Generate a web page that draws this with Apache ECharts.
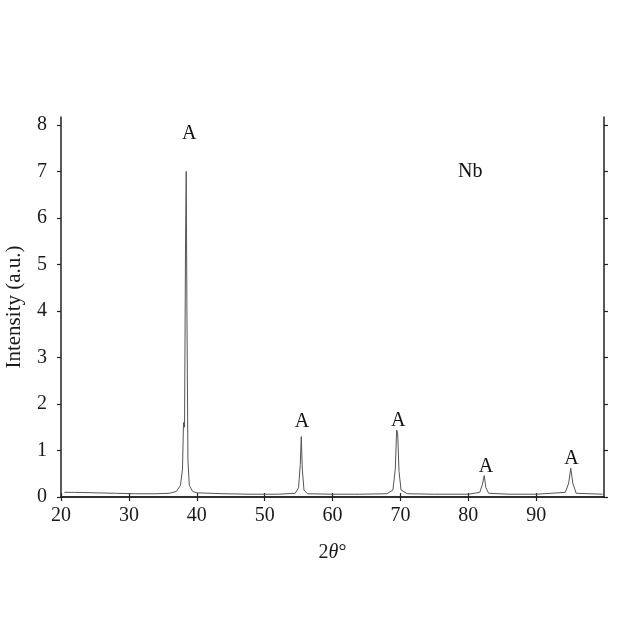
<!DOCTYPE html>
<html><head><meta charset="utf-8">
<script src="https://cdn.jsdelivr.net/npm/echarts@6/dist/echarts.min.js"></script>
<style>html,body{margin:0;padding:0;background:#fff}#c{width:630px;height:630px}</style>
</head><body><div id="c"></div>
<script>
const twoTheta = [20.5,22,25,28,31,34,36,37,37.6,37.9,38.05,38.2,38.35,38.45,38.55,38.7,38.9,39.4,40,44,48,52,54.5,55.0,55.25,55.4,55.55,55.8,56.3,60,64,68,68.9,69.25,69.45,69.6,69.8,70.1,71,75,80,81.7,82.1,82.35,82.6,83.0,86,90,94.3,94.8,95.1,95.4,95.9,99.8];
const intensity = [0.10,0.10,0.09,0.08,0.07,0.07,0.08,0.12,0.25,0.6,1.6,1.5,5.5,7.0,4.0,0.8,0.25,0.12,0.09,0.07,0.06,0.06,0.08,0.2,0.7,1.3,0.6,0.15,0.07,0.06,0.06,0.07,0.15,0.6,1.44,1.38,0.55,0.15,0.07,0.06,0.06,0.1,0.28,0.46,0.2,0.08,0.06,0.06,0.1,0.3,0.62,0.3,0.08,0.06];
// peak annotation anchors (data coordinates)
const peakLabelX = [38.9,55.5,69.7,82.6,95.2];
const peakLabelY = [7.8,1.62,1.64,0.65,0.82];
const peakLabelText = ['A','A','A','A','A'];
const sampleName = 'Nb';
const sampleNameX = 80.3, sampleNameY = 7.0;
const xTicks = [20,30,40,50,60,70,80,90];
const yTicks = [0,1,2,3,4,5,6,7,8];

const FONT = '"Liberation Serif","DejaVu Serif",serif';
const chart = echarts.init(document.getElementById('c'));
const axisLine = {show:true, lineStyle:{color:'#222', width:1.5}};
const xTick = {show:true, inside:false, length:4, customValues:xTicks, lineStyle:{color:'#222', width:1.2}};
const yTick = {show:true, inside:false, length:4, customValues:yTicks, lineStyle:{color:'#222', width:1.2}};
chart.setOption({
  animation:false,
  backgroundColor:'#fff',
  grid:{left:61, right:26, top:117, bottom:133, containLabel:false, outerBoundsMode:'none'},
  xAxis:[{
    type:'value', min:20, max:100, interval:10, position:'bottom',
    axisLine, axisTick:xTick, splitLine:{show:false},
    axisLabel:{color:'#1a1a1a', fontFamily:FONT, fontSize:20, margin:9, customValues:xTicks},
    name:'{a|2}{b|θ}{a|°}', nameLocation:'middle', nameGap:46,
    nameTextStyle:{rich:{a:{fontFamily:FONT,fontSize:20,color:'#1a1a1a'},b:{fontFamily:FONT,fontSize:20,fontStyle:'italic',color:'#1a1a1a'}}}
  },{
    type:'value', min:20, max:100, interval:10, position:'top',
    axisLine, axisTick:xTick, axisLabel:{show:false}, splitLine:{show:false}
  }],
  yAxis:[{
    type:'value', min:0, max:8.17, interval:1, position:'left',
    axisLine, axisTick:yTick, splitLine:{show:false},
    axisLabel:{color:'#1a1a1a', fontFamily:FONT, fontSize:20, margin:14, customValues:yTicks},
    name:'Intensity (a.u.)', nameLocation:'middle', nameGap:36,
    nameTextStyle:{fontFamily:FONT, fontSize:21, color:'#1a1a1a'}
  },{
    type:'value', min:0, max:8.17, interval:1, position:'right',
    axisLine, axisTick:yTick, axisLabel:{show:false}, splitLine:{show:false}
  }],
  series:[{
    type:'line', xAxisIndex:0, yAxisIndex:0, showSymbol:false, symbol:'none',
    data: twoTheta.map((x,i)=>[x,intensity[i]]),
    lineStyle:{color:'#555', width:1}
  },{
    type:'scatter', xAxisIndex:0, yAxisIndex:0, symbolSize:0, silent:true,
    data: peakLabelX.map((x,i)=>[x,peakLabelY[i],peakLabelText[i]]),
    label:{show:true, position:'inside', formatter:p=>p.data[2],
      fontFamily:FONT, fontSize:20, color:'#111', opacity:1}
  },{
    type:'scatter', xAxisIndex:0, yAxisIndex:0, symbolSize:0, silent:true,
    data:[[sampleNameX, sampleNameY, sampleName]],
    label:{show:true, position:'inside', formatter:p=>p.data[2],
      fontFamily:FONT, fontSize:20, color:'#111', opacity:1}
  }]
});
</script></body></html>
